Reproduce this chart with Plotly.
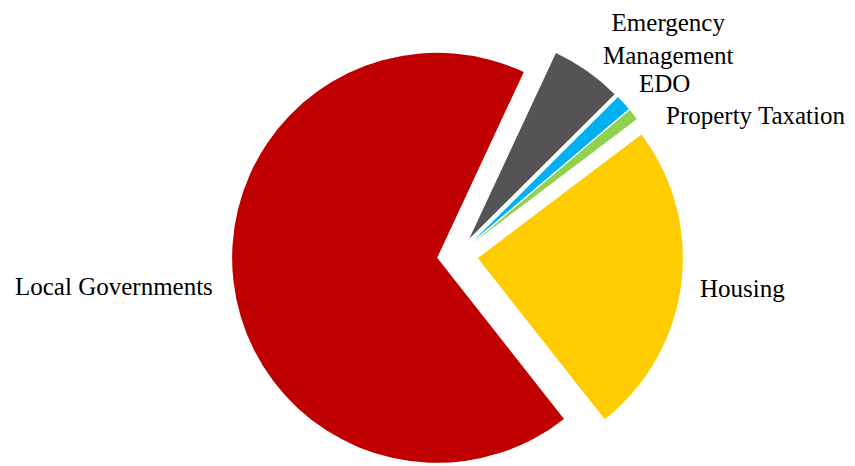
import plotly.graph_objects as go

# ---- data ----
labels = ["Emergency Management", "EDO", "Property Taxation", "Housing", "Local Governments"]
label_text = ["Emergency<br>Management", "EDO", "Property Taxation", "Housing", "Local Governments"]
values = [5.6, 1.25, 0.9, 24.7, 67.6]
colors = ["#545454", "#00B0F0", "#92D050", "#FFCC00", "#C00000"]

# ---- layout geometry ----
W, H = 855, 473
M = dict(l=44, r=0, t=22, b=0)


def paper_x(px):
    return (px - M["l"]) / (W - M["l"] - M["r"])


def paper_y(py):
    return 1 - (py - M["t"]) / (H - M["t"] - M["b"])


# label anchor points (pixels) and anchors, matching the reference placement
label_place = [
    (660, 31, "center"),
    (656.5, 75, "center"),
    (655.5, 107.5, "left"),
    (690, 280.5, "left"),
    (207, 278.5, "right"),
]

fig = go.Figure(
    go.Pie(
        labels=labels,
        values=values,
        sort=False,
        direction="clockwise",
        rotation=25,
        pull=[0.1] * len(values),
        marker=dict(colors=colors, line=dict(width=0)),
        textinfo="none",
        automargin=False,
        showlegend=False,
        hoverinfo="label+value",
    )
)

for txt, (px, py, anchor) in zip(label_text, label_place):
    fig.add_annotation(
        x=paper_x(px),
        y=paper_y(py),
        xref="paper",
        yref="paper",
        text=txt,
        showarrow=False,
        xanchor=anchor,
        yanchor="middle",
        align="center",
        font=dict(family="Liberation Serif", size=25, color="#000000"),
    )

fig.update_layout(
    width=W,
    height=H,
    margin=dict(l=M["l"], r=M["r"], t=M["t"], b=M["b"], autoexpand=False),
    paper_bgcolor="white",
    plot_bgcolor="white",
    font=dict(family="Liberation Serif", size=25, color="#000000"),
)

fig.write_html("out.html")
